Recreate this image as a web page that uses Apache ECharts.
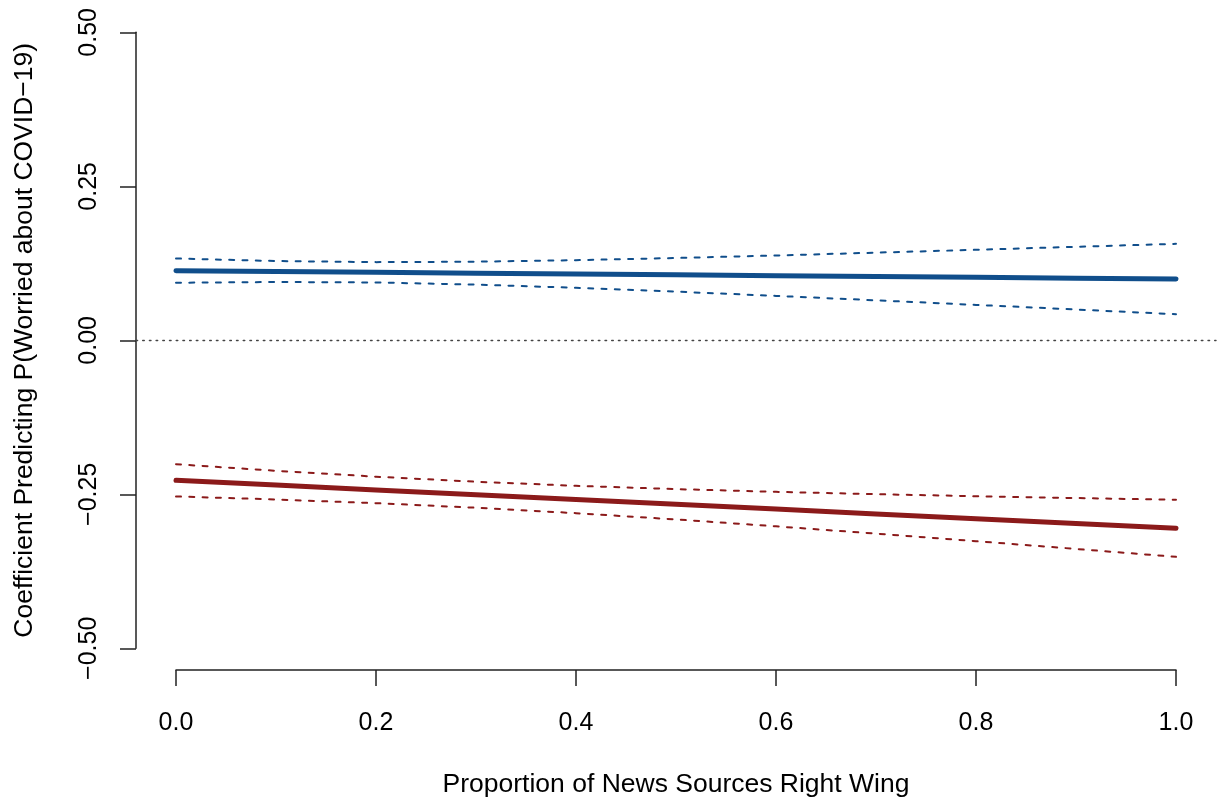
<!DOCTYPE html>
<html>
<head>
<meta charset="utf-8">
<script src="https://cdn.jsdelivr.net/npm/echarts@6/dist/echarts.min.js"></script>
<style>
  html, body { margin: 0; padding: 0; background: #ffffff; }
  #chart { width: 1217px; height: 803px; }
</style>
</head>
<body>
<div id="chart"></div>
<script>
// ---- Data ----
const xs = [0, 0.1, 0.2, 0.3, 0.4, 0.5, 0.6, 0.7, 0.8, 0.9, 1.0];

const blueFit   = [0.1131, 0.1117, 0.1104, 0.1090, 0.1077, 0.1063, 0.1049, 0.1036, 0.1022, 0.1009, 0.0995];
const blueUpper = [0.1328, 0.1287, 0.1269, 0.1276, 0.1301, 0.1336, 0.1377, 0.1423, 0.1469, 0.1518, 0.1566];
const blueLower = [0.0934, 0.0947, 0.0939, 0.0904, 0.0853, 0.0790, 0.0721, 0.0649, 0.0575, 0.0500, 0.0424];

const redFit    = [-0.2273, -0.2351, -0.2429, -0.2507, -0.2584, -0.2662, -0.2740, -0.2818, -0.2896, -0.2974, -0.3052];
const redUpper  = [-0.2011, -0.2118, -0.2214, -0.2296, -0.2362, -0.2416, -0.2460, -0.2498, -0.2531, -0.2561, -0.2589];
const redLower  = [-0.2535, -0.2584, -0.2644, -0.2718, -0.2806, -0.2908, -0.3020, -0.3138, -0.3261, -0.3387, -0.3515];

const referenceLevel = 0;

const xTicks = [0, 0.2, 0.4, 0.6, 0.8, 1.0];
const xTickLabels = ['0.0', '0.2', '0.4', '0.6', '0.8', '1.0'];
const yTicks = [-0.5, -0.25, 0, 0.25, 0.5];
const yTickLabels = ['\u22120.50', '\u22120.25', '0.00', '0.25', '0.50'];

const xTitle = 'Proportion of News Sources Right Wing';
const yTitle = 'Coefficient Predicting P(Worried about COVID\u221219)';

// ---- Chart ----
const FONT = '"Liberation Sans", Arial, Helvetica, sans-serif';
const BLUE = '#104E8B';
const RED = '#8B1A1A';

function pairs(arr) { return xs.map((x, i) => [x, arr[i]]); }
function lookup(ticks, labels, v) {
  for (let i = 0; i < ticks.length; i++) if (Math.abs(ticks[i] - v) < 1e-9) return labels[i];
  return '';
}

const chart = echarts.init(document.getElementById('chart'), null, { renderer: 'canvas' });

const solid = (color) => ({ color: color, width: 5, type: 'solid', cap: 'round', join: 'round' });
const dashed = (color) => ({ color: color, width: 2, type: [5, 8.3], cap: 'round', join: 'round' });

const lineSeries = (name, arr, style, extra) => Object.assign({
  name: name, type: 'line', xAxisIndex: 0, yAxisIndex: 0,
  data: pairs(arr), showSymbol: false, symbol: 'none', smooth: false,
  lineStyle: style, silent: true, animation: false
}, extra || {});

const option = {
  animation: false,
  backgroundColor: '#ffffff',
  grid: [
    { left: 136, right: 1, top: 7.66, bottom: 130.06 },   // data region
    { left: 176, right: 41, top: 7.66, bottom: 130.06 },  // x axis display
    { left: 136, right: 1, top: 32.3, bottom: 154.7 }     // y axis display
  ],
  xAxis: [
    { gridIndex: 0, type: 'value', min: -0.04, max: 1.04, show: false },
    {
      gridIndex: 1, type: 'value', min: 0, max: 1, interval: 0.2, position: 'bottom',
      axisLine: { show: true, onZero: false, lineStyle: { color: '#222', width: 1.5 } },
      axisTick: { show: true, inside: false, length: 16, lineStyle: { color: '#222', width: 1.5 } },
      axisLabel: {
        show: true, margin: 41, color: '#000', fontSize: 25, fontFamily: FONT,
        formatter: (v) => lookup(xTicks, xTickLabels, v)
      },
      splitLine: { show: false },
      name: xTitle, nameLocation: 'middle', nameGap: 101,
      nameTextStyle: { color: '#000', fontSize: 26.5, fontFamily: FONT }
    },
    { gridIndex: 2, type: 'value', min: 0, max: 1, show: false }
  ],
  yAxis: [
    { gridIndex: 0, type: 'value', min: -0.54, max: 0.54, show: false },
    { gridIndex: 1, type: 'value', min: -0.54, max: 0.54, show: false },
    {
      gridIndex: 2, type: 'value', min: -0.5, max: 0.5, interval: 0.25, position: 'left',
      axisLine: { show: true, onZero: false, lineStyle: { color: '#222', width: 1.5 } },
      axisTick: { show: true, inside: false, length: 16, lineStyle: { color: '#222', width: 1.5 } },
      axisLabel: {
        show: true, rotate: 90, margin: 34, color: '#000', fontSize: 25, fontFamily: FONT,
        formatter: (v) => lookup(yTicks, yTickLabels, v)
      },
      splitLine: { show: false },
      name: yTitle, nameLocation: 'middle', nameGap: 98,
      nameTextStyle: { color: '#000', fontSize: 26.5, fontFamily: FONT }
    }
  ],
  series: [
    lineSeries('blueUpper', blueUpper, dashed(BLUE), {
      markLine: {
        silent: true, animation: false, symbol: ['none', 'none'],
        label: { show: false },
        lineStyle: { color: '#444', width: 1.4, type: [1.6, 5.1], cap: 'round' },
        data: [{ yAxis: referenceLevel }]
      }
    }),
    lineSeries('blueLower', blueLower, dashed(BLUE)),
    lineSeries('redUpper', redUpper, dashed(RED)),
    lineSeries('redLower', redLower, dashed(RED)),
    lineSeries('blueFit', blueFit, solid(BLUE)),
    lineSeries('redFit', redFit, solid(RED))
  ]
};

chart.setOption(option);
</script>
</body>
</html>
